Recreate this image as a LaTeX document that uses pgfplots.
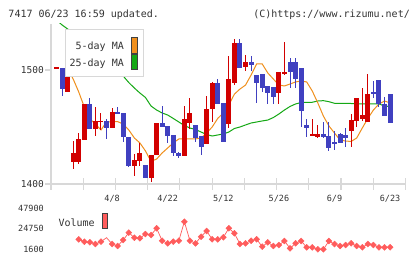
\documentclass[border=0pt]{standalone}
\usepackage{pgfplots}
\pgfplotsset{compat=1.18}
\usepackage{pgfplotstable}
\usepackage{fontspec}
\setmainfont{DejaVu Sans Mono}

\definecolor{upc}{HTML}{D20000}
\definecolor{dnc}{HTML}{4040C0}
\definecolor{mafive}{HTML}{F0901E}
\definecolor{matwentyfive}{HTML}{14A814}
\definecolor{volc}{HTML}{FF5C5C}
\definecolor{axgray}{HTML}{D8D8D8}
\definecolor{txt}{HTML}{333333}
\definecolor{swatchedge}{HTML}{404040}

% daily candles: index, open, high, low, close
\pgfplotstableread{
i o h l c
0 1501.5 1502.5 1501.5 1502.5
2 1481.0 1502.0 1481.0 1502.0
3 1419.1 1437.7 1413.2 1426.9
4 1419.3 1444.5 1417.3 1439.5
5 1438.6 1470.2 1438.6 1470.2
7 1448.0 1467.3 1442.4 1455.3
8 1454.4 1462.3 1447.4 1455.3
10 1448.9 1466.4 1448.9 1462.9
14 1416.1 1426.1 1407.3 1421.1
15 1420.5 1435.7 1416.1 1427.5
17 1405.5 1425.5 1402.0 1425.5
18 1425.5 1453.8 1425.5 1453.8
23 1424.8 1468.4 1424.8 1457.0
24 1453.8 1475.7 1448.0 1462.6
27 1435.4 1477.2 1435.4 1465.8
28 1465.5 1489.7 1454.7 1488.6
31 1452.6 1512.3 1448.9 1492.1
32 1488.6 1527.2 1486.8 1523.9
34 1502.9 1513.2 1499.1 1506.8
40 1480.1 1498.5 1469.9 1498.0
41 1497.1 1524.8 1495.6 1498.0
46 1442.4 1457.0 1442.4 1443.9
47 1441.0 1451.8 1440.1 1443.9
53 1446.5 1461.4 1432.7 1456.2
54 1455.5 1475.7 1450.3 1475.7
55 1457.0 1484.5 1455.3 1460.5
56 1454.7 1496.5 1454.7 1478.9
}\upcandles

\pgfplotstableread{
i o h l c
1 1502.0 1502.0 1477.5 1483.1
6 1470.2 1475.7 1448.0 1448.0
9 1455.3 1457.0 1439.2 1448.9
11 1462.9 1467.8 1462.0 1462.0
12 1462.0 1462.0 1437.1 1441.0
13 1441.0 1441.0 1415.2 1416.1
16 1416.7 1416.7 1405.0 1405.5
19 1453.8 1468.4 1450.3 1450.3
20 1450.9 1450.9 1435.7 1442.4
21 1443.0 1443.0 1424.8 1426.9
22 1427.5 1428.3 1423.1 1424.8
25 1451.8 1451.8 1437.1 1440.6
26 1442.1 1442.1 1425.5 1432.7
29 1488.6 1492.1 1470.2 1470.2
30 1471.3 1471.3 1437.1 1437.1
33 1523.9 1527.2 1502.0 1502.0
35 1506.8 1512.3 1499.1 1504.4
36 1495.6 1495.6 1471.3 1488.9
37 1496.5 1496.5 1480.4 1484.5
38 1486.0 1486.0 1469.9 1480.1
39 1485.1 1485.1 1469.9 1476.6
42 1506.8 1510.3 1484.5 1498.5
43 1506.8 1510.3 1484.0 1491.8
44 1501.5 1501.5 1450.3 1464.3
45 1451.8 1457.0 1441.5 1449.4
48 1443.9 1454.7 1440.1 1441.5
49 1442.1 1454.1 1429.0 1431.9
50 1437.1 1446.5 1429.8 1435.7
51 1443.9 1445.0 1435.7 1435.7
52 1443.0 1448.9 1432.7 1440.6
57 1481.0 1490.6 1475.2 1478.7
58 1491.2 1491.2 1467.8 1469.9
59 1470.2 1476.6 1459.9 1459.9
60 1478.9 1478.9 1453.8 1453.8
}\downcandles

% 5-day moving average
\pgfplotstableread{
i v
2 1501.8
3 1492.1
4 1480.7
5 1467.5
6 1457.0
7 1452.6
8 1447.4
9 1454.4
10 1454.7
11 1454.7
12 1452.6
13 1447.4
14 1440.4
15 1436.0
16 1429.0
17 1419.8
18 1421.9
19 1427.2
20 1431.6
21 1436.0
22 1439.5
23 1439.5
24 1439.5
25 1439.5
26 1440.4
27 1444.7
28 1450.0
29 1457.5
30 1462.3
31 1469.3
32 1478.9
33 1483.3
34 1486.8
35 1495.6
36 1505.3
37 1505.3
38 1497.4
39 1492.1
40 1486.8
41 1486.0
42 1487.7
43 1489.5
44 1490.4
45 1489.5
46 1481.6
47 1471.1
48 1459.6
49 1450.9
50 1444.7
51 1438.6
52 1437.7
53 1437.3
54 1440.4
55 1449.1
56 1457.5
57 1464.9
58 1470.2
59 1472.8
60 1471.1
}\mafast

% 25-day moving average
\pgfplotstableread{
i v
0 1543.9
1 1539.5
2 1536.0
3 1532.5
4 1528.1
5 1523.7
6 1519.3
7 1515.8
8 1511.4
9 1507.0
10 1503.5
11 1500.0
12 1494.7
13 1489.0
14 1484.2
15 1479.8
16 1475.9
17 1468.4
18 1464.9
19 1462.3
20 1460.5
21 1457.5
22 1454.4
23 1451.3
24 1449.1
25 1447.8
26 1445.6
27 1443.4
28 1442.1
29 1443.0
30 1443.9
31 1445.6
32 1448.7
33 1450.0
34 1451.8
35 1453.5
36 1454.4
37 1455.3
38 1456.1
39 1458.3
40 1461.4
41 1464.9
42 1468.0
43 1470.2
44 1471.5
45 1471.7
46 1471.7
47 1472.8
48 1473.1
49 1472.2
50 1470.8
51 1470.8
52 1470.8
53 1470.6
54 1470.2
55 1470.2
56 1470.2
57 1470.2
58 1470.2
59 1468.4
60 1468.0
}\maslow

% daily volume
\pgfplotstableread{
i v
4 12890
5 10180
6 9500
7 7580
8 10180
9 14700
10 7580
11 5330
12 12100
13 20340
14 14700
15 14020
16 18870
17 17740
18 25310
19 11310
20 8370
21 10180
22 11310
23 32760
24 11310
25 8370
26 15830
27 22260
28 12890
29 12890
30 15150
31 25310
32 19660
33 7580
34 8370
35 11310
36 12890
37 4540
38 9500
39 5330
40 6450
41 10970
42 2730
43 8370
44 10970
45 3860
46 3860
47 1600
48 1600
49 10970
50 7580
51 5330
52 6450
53 8370
54 5330
55 3860
56 7580
57 6450
58 3860
59 3860
60 3860
}\vol

\pgfplotsset{
  wick/.style={forget plot, draw=none, mark=none,
    error bars/.cd, y dir=both, y explicit, error mark=none,
    error bar style={draw=#1, line width=1pt}},
  body/.style={forget plot, draw=none, mark=none,
    error bars/.cd, y dir=both, y explicit, error mark=none,
    error bar style={draw=#1, line width=5pt}},
}

\begin{document}
\begin{tikzpicture}
\useasboundingbox (0pt,0pt) rectangle (420pt,259pt);
\fill[white] (0pt,0pt) rectangle (420pt,259pt);

% frame lines and week ticks
\draw[axgray, line width=1.2pt] (51pt,235pt) -- (51pt,69pt);
\draw[axgray, line width=1.2pt] (45pt,75pt) -- (406pt,75pt);
\draw[axgray, line width=1.2pt] (45pt,189pt) -- (51pt,189pt);
\foreach \k in {1,...,11}
  \draw[axgray, line width=1.2pt] ({51pt+32.22pt*\k},69pt) -- ({51pt+32.22pt*\k},81pt);

\begin{axis}[
  at={(51pt,75pt)}, anchor=south west,
  scale only axis, width=354.5pt, height=160pt,
  xmin=-0.99, xmax=62.77, ymin=1400, ymax=1540.35,
  axis line style={draw=none}, major tick style={draw=none},
  xtick={10,20,30,40,50,60},
  xticklabels={4/8,4/22,5/12,5/26,6/9,6/23},
  ytick={1400,1500}, yticklabels={1400,1500},
  xticklabel style={font=\fontsize{8.5}{10}\selectfont, text=txt,
    anchor=north, inner sep=0pt, yshift=-11pt},
  yticklabel style={font=\fontsize{9.5}{11}\selectfont, text=txt,
    anchor=east, inner sep=0pt, xshift=-7pt},
]
\addplot[matwentyfive, line width=1pt, mark=none] table[x=i, y=v] {\maslow};
\addplot[mafive, line width=1pt, mark=none] table[x=i, y=v] {\mafast};

\addplot[wick=upc] table[x=i, y expr={(\thisrow{h}+\thisrow{l})/2},
  y error expr={(\thisrow{h}-\thisrow{l})/2}] {\upcandles};
\addplot[body=upc] table[x=i, y expr={(\thisrow{o}+\thisrow{c})/2},
  y error expr={abs(\thisrow{c}-\thisrow{o})/2}] {\upcandles};
\addplot[wick=dnc] table[x=i, y expr={(\thisrow{h}+\thisrow{l})/2},
  y error expr={(\thisrow{h}-\thisrow{l})/2}] {\downcandles};
\addplot[body=dnc] table[x=i, y expr={(\thisrow{o}+\thisrow{c})/2},
  y error expr={abs(\thisrow{c}-\thisrow{o})/2}] {\downcandles};
\end{axis}

\begin{axis}[
  at={(51pt,7pt)}, anchor=south west,
  scale only axis, width=354.5pt, height=47pt,
  xmin=-0.99, xmax=62.77, ymin=-1448, ymax=51626,
  axis line style={draw=none}, major tick style={draw=none},
  xtick=\empty, scaled y ticks=false,
  ytick={1600,24750,47900}, yticklabels={1600,24750,47900},
  yticklabel style={font=\fontsize{8.5}{10}\selectfont, text=txt,
    anchor=east, inner sep=0pt, xshift=-7pt},
  clip=false,
]
\addplot[volc, line width=0.7pt, mark=none] table[x=i, y=v] {\vol};
\addplot[only marks, mark=square*, mark size=2.1pt,
  mark options={rotate=45, draw=volc, fill=volc},
  skip coords between index={5}{6}] table[x=i, y=v] {\vol};
\end{axis}

% moving-average legend
\draw[axgray, fill=white, line width=1pt] (65pt,229pt) rectangle (143.3pt,182.3pt);
\node[anchor=base east, inner sep=0pt, text=txt, font=\fontsize{10}{12}\selectfont]
  at (124pt,209.7pt) {5-day MA};
\node[anchor=base east, inner sep=0pt, text=txt, font=\fontsize{10}{12}\selectfont]
  at (124pt,192.3pt) {25-day MA};
\draw[swatchedge, fill=mafive, line width=0.8pt] (131pt,205.7pt) rectangle (137pt,221.7pt);
\draw[swatchedge, fill=matwentyfive, line width=0.8pt] (131pt,189.7pt) rectangle (137pt,204.7pt);

% volume legend
\node[anchor=base west, inner sep=0pt, text=txt, font=\fontsize{10}{12}\selectfont]
  at (58.3pt,32.3pt) {Volume};
\draw[swatchedge, fill=volc, line width=0.8pt] (102pt,30.7pt) rectangle (107.3pt,45.7pt);

% header
\node[anchor=base west, inner sep=0pt, text=txt, font=\fontsize{10}{12}\selectfont]
  at (8.3pt,241.7pt) {7417 06/23 16:59 updated.};
\node[anchor=base east, inner sep=0pt, text=txt, font=\fontsize{10}{12}\selectfont]
  at (410pt,241.7pt) {(C)https://www.rizumu.net/};
\end{tikzpicture}
\end{document}
